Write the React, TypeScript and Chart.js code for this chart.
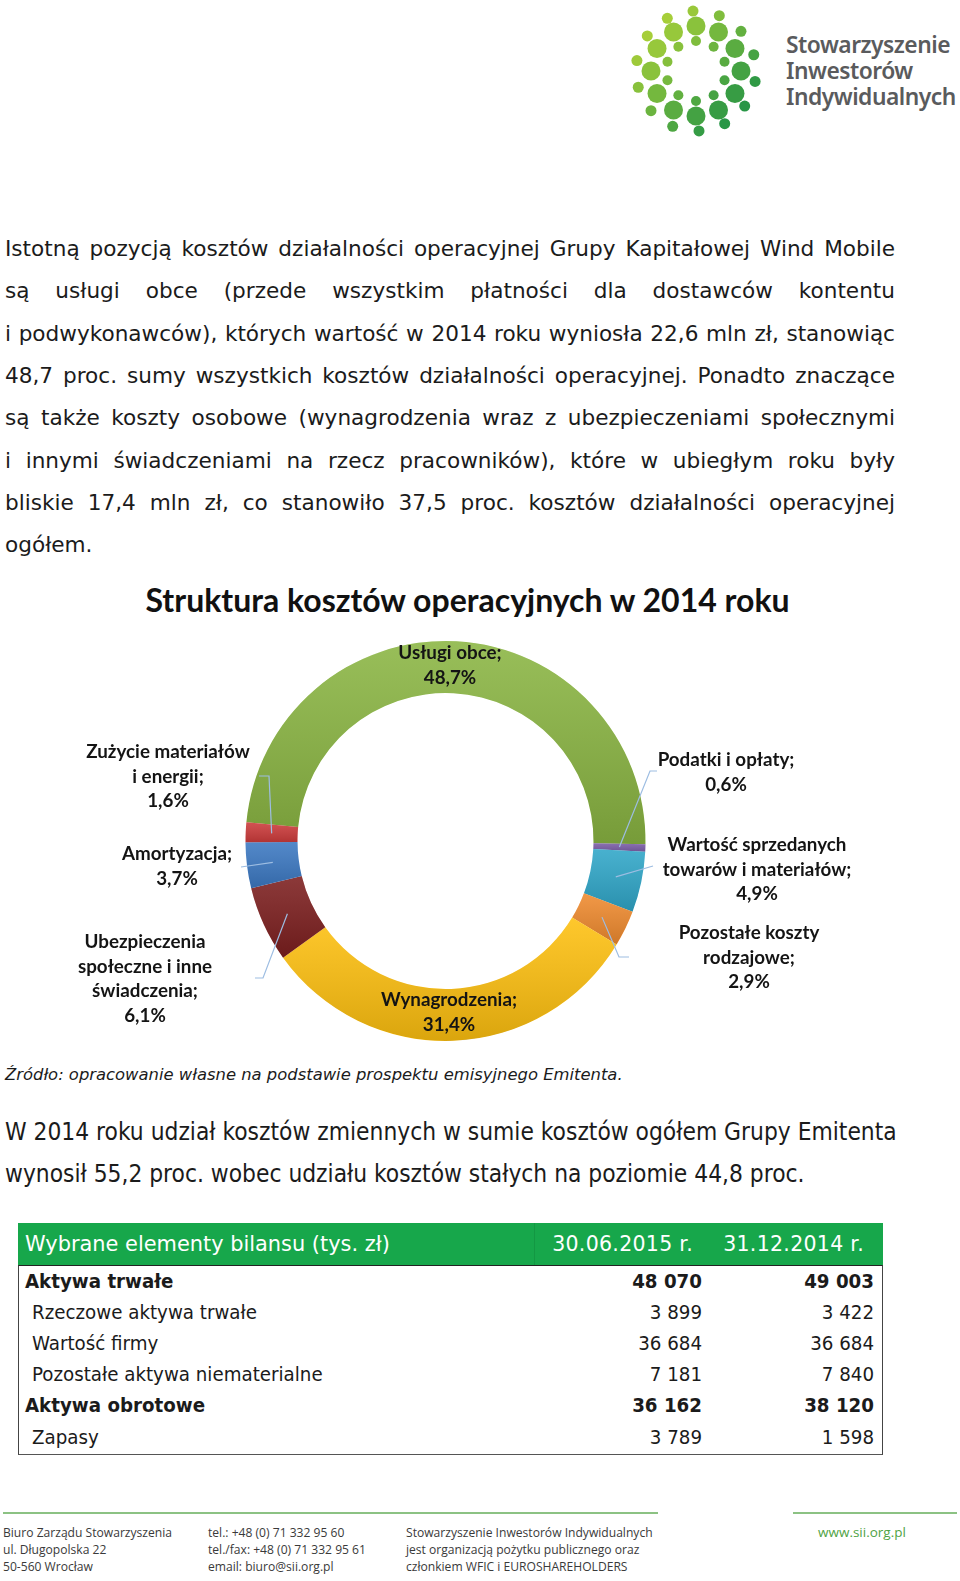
import React, { useEffect, useRef } from 'react';
import { Chart, registerables } from 'chart.js';

Chart.register(...registerables);

// ---------- chart data ----------
const CATEGORIES = [
  'Usługi obce',
  'Podatki i opłaty',
  'Wartość sprzedanych towarów i materiałów',
  'Pozostałe koszty rodzajowe',
  'Wynagrodzenia',
  'Ubezpieczenia społeczne i inne świadczenia',
  'Amortyzacja',
  'Zużycie materiałów i energii',
];
const SHARES = [48.7, 0.6, 4.9, 2.9, 31.4, 6.1, 3.7, 1.6];
const LABEL_LINES = [
  ['Usługi obce;'],
  ['Podatki i opłaty;'],
  ['Wartość sprzedanych', 'towarów i materiałów;'],
  ['Pozostałe koszty', 'rodzajowe;'],
  ['Wynagrodzenia;'],
  ['Ubezpieczenia', 'społeczne i inne', 'świadczenia;'],
  ['Amortyzacja;'],
  ['Zużycie materiałów', 'i energii;'],
];
const SLICE_COLORS = ['#8AB542', '#7A5CA6', '#2FA6C8', '#EF8A2E', '#FEC00F', '#7C1E1E', '#3B78C2', '#CC3A3A'];
const CHART_TITLE = 'Struktura kosztów operacyjnych w 2014 roku';

// label layout (page coordinates): centre x, first line y, leader elbow points
const CANVAS_TOP = 560;
const LABEL_LAYOUT: { cx: number; y: number; leader: number[][] | null }[] = [
  { cx: 450, y: 653, leader: null },
  { cx: 726, y: 760, leader: [[657, 771], [650, 771]] },
  { cx: 757, y: 845, leader: [[653, 866]] },
  { cx: 749, y: 933, leader: [[629, 957], [619, 957]] },
  { cx: 449, y: 1000, leader: null },
  { cx: 145, y: 942, leader: [[255, 978], [263, 978]] },
  { cx: 177, y: 854, leader: [[241, 867]] },
  { cx: 168, y: 752, leader: [[259, 776], [269, 776]] },
];

// ---------- page text ----------
const PARA1 = [
  'Istotną pozycją kosztów działalności operacyjnej Grupy Kapitałowej Wind Mobile',
  'są usługi obce (przede wszystkim płatności dla dostawców kontentu',
  'i podwykonawców), których wartość w 2014 roku wyniosła 22,6 mln zł, stanowiąc',
  '48,7 proc. sumy wszystkich kosztów działalności operacyjnej. Ponadto znaczące',
  'są także koszty osobowe (wynagrodzenia wraz z ubezpieczeniami społecznymi',
  'i innymi świadczeniami na rzecz pracowników), które w ubiegłym roku były',
  'bliskie 17,4 mln zł, co stanowiło 37,5 proc. kosztów działalności operacyjnej',
  'ogółem.',
];
const SOURCE = 'Źródło: opracowanie własne na podstawie prospektu emisyjnego Emitenta.';
const PARA2 = [
  'W 2014 roku udział kosztów zmiennych w sumie kosztów ogółem Grupy Emitenta',
  'wynosił 55,2 proc. wobec udziału kosztów stałych na poziomie 44,8 proc.',
];
const TABLE_HEAD = ['Wybrane elementy bilansu (tys. zł)', '30.06.2015 r.', '31.12.2014 r.'];
const TABLE_ROWS = ['Aktywa trwałe', 'Rzeczowe aktywa trwałe', 'Wartość firmy', 'Pozostałe aktywa niematerialne', 'Aktywa obrotowe', 'Zapasy'];
const TABLE_BOLD = [true, false, false, false, true, false];
const COL_2015 = ['48 070', '3 899', '36 684', '7 181', '36 162', '3 789'];
const COL_2014 = ['49 003', '3 422', '36 684', '7 840', '38 120', '1 598'];
const FOOTER_COLS = [
  ['Biuro Zarządu Stowarzyszenia', 'ul. Długopolska 22', '50-560 Wrocław'],
  ['tel.: +48 (0) 71 332 95 60', 'tel./fax: +48 (0) 71 332 95 61', 'email: biuro@sii.org.pl'],
  ['Stowarzyszenie Inwestorów Indywidualnych', 'jest organizacją pożytku publicznego oraz', 'członkiem WFIC i EUROSHAREHOLDERS'],
];
const LOGO_LINES = ['Stowarzyszenie', 'Inwestorów', 'Indywidualnych'];

const fmtPct = (v: number) => v.toFixed(1).replace('.', ',') + '%';

const shadePlugin = {
  id: 'shade',
  afterDatasetsDraw(chart: any) {
    const ctx = chart.ctx;
    chart.getDatasetMeta(0).data.forEach((arc: any) => {
      const p = arc.getProps(['x', 'y', 'startAngle', 'endAngle', 'innerRadius', 'outerRadius'], true);
      let minY = Infinity, maxY = -Infinity;
      for (let k = 0; k <= 24; k++) {
        const a = p.startAngle + ((p.endAngle - p.startAngle) * k) / 24;
        for (const r of [p.innerRadius, p.outerRadius]) {
          const py = p.y + Math.sin(a) * r;
          minY = Math.min(minY, py);
          maxY = Math.max(maxY, py);
        }
      }
      ctx.save();
      ctx.beginPath();
      ctx.arc(p.x, p.y, p.outerRadius, p.startAngle, p.endAngle);
      ctx.arc(p.x, p.y, p.innerRadius, p.endAngle, p.startAngle, true);
      ctx.closePath();
      ctx.clip();
      const g = ctx.createLinearGradient(0, minY, 0, maxY + 1);
      g.addColorStop(0, 'rgba(255,255,255,0.12)');
      g.addColorStop(1, 'rgba(0,0,0,0.14)');
      ctx.fillStyle = g;
      ctx.fill();
      ctx.restore();
    });
  },
};

const labelPlugin = {
  id: 'sliceLabels',
  afterDraw(chart: any) {
    const ctx = chart.ctx;
    const meta = chart.getDatasetMeta(0);
    meta.data.forEach((arc: any, i: number) => {
      const p = arc.getProps(['x', 'y', 'startAngle', 'endAngle', 'innerRadius', 'outerRadius'], true);
      const mid = (p.startAngle + p.endAngle) / 2;
      const r = (p.innerRadius + p.outerRadius) / 2;
      const ax = p.x + Math.cos(mid) * r;
      const ay = p.y + Math.sin(mid) * r;
      const lay = LABEL_LAYOUT[i];
      if (lay.leader) {
        ctx.save();
        ctx.strokeStyle = '#9DBDE2';
        ctx.lineWidth = 1.2;
        ctx.beginPath();
        lay.leader.forEach((pt, k) => {
          if (k === 0) ctx.moveTo(pt[0], pt[1] - CANVAS_TOP);
          else ctx.lineTo(pt[0], pt[1] - CANVAS_TOP);
        });
        ctx.lineTo(ax, ay);
        ctx.stroke();
        ctx.restore();
      }
      const lines = [...LABEL_LINES[i], fmtPct(SHARES[i])];
      ctx.save();
      ctx.font = 'bold 18.8px Lato';
      ctx.fillStyle = '#141414';
      ctx.textAlign = 'center';
      ctx.textBaseline = 'middle';
      lines.forEach((t, k) => {
        ctx.fillText(t, lay.cx, lay.y - CANVAS_TOP + k * 24.7);
      });
      ctx.restore();
    });
  },
};

function Doughnut() {
  const ref = useRef<HTMLCanvasElement | null>(null);
  useEffect(() => {
    if (!ref.current) return;
    const chart = new Chart(ref.current, {
      type: 'doughnut',
      data: {
        labels: CATEGORIES,
        datasets: [
          {
            data: SHARES,
            backgroundColor: SLICE_COLORS,
            borderWidth: 0,
          },
        ],
      },
      options: {
        animation: false,
        responsive: true,
        maintainAspectRatio: false,
        cutout: '74%',
        rotation: -84.6,
        layout: { padding: { left: 245.5, right: 314.5, top: 81, bottom: 9 } },
        plugins: {
          legend: { display: false },
          tooltip: { enabled: false },
          title: { display: false },
        },
      },
      plugins: [shadePlugin, labelPlugin],
    });
    return () => chart.destroy();
  }, []);
  return (
    <div style={{ position: 'absolute', left: 0, top: CANVAS_TOP, width: 960, height: 490 }}>
      <canvas ref={ref} />
    </div>
  );
}

function Logo() {
  const cx = 70, cy = 71;
  const items: JSX.Element[] = [];
  const col = (x: number, y: number) => {
    const t = Math.max(0, Math.min(1, ((x - cx) + (y - cy)) / 160 + 0.5));
    const c1 = [166, 206, 57], c2 = [40, 150, 70];
    const c = c1.map((v, k) => Math.round(v + (c2[k] - v) * t));
    return `rgb(${c[0]},${c[1]},${c[2]})`;
  };
  const rings = [
    { r: 60, n: 14, s: 5.5, off: 10 },
    { r: 45, n: 12, s: 9.5, off: 0 },
    { r: 30, n: 10, s: 5, off: 18 },
  ];
  rings.forEach((rg, ri) => {
    for (let k = 0; k < rg.n; k++) {
      const a = ((k * 360) / rg.n + rg.off) * (Math.PI / 180);
      const x = cx + Math.cos(a) * rg.r;
      const y = cy + Math.sin(a) * rg.r;
      items.push(<circle key={ri + '-' + k} cx={x} cy={y} r={rg.s} fill={col(x, y)} />);
    }
  });
  return (
    <>
      <svg style={{ position: 'absolute', left: 626, top: 0 }} width={140} height={142}>
        {items}
      </svg>
      {LOGO_LINES.map((t, i) => (
        <div
          key={t}
          style={{
            position: 'absolute',
            left: 786,
            top: 32 + i * 26.2,
            height: 26,
            lineHeight: '26px',
            fontFamily: '"Noto Sans", sans-serif',
            fontWeight: 600,
            fontSize: 22.8,
            letterSpacing: -0.5,
            color: '#5a5b5d',
            whiteSpace: 'nowrap',
          }}
        >
          {t}
        </div>
      ))}
    </>
  );
}

export default function App() {
  const lineStyle = (top: number, last: boolean, h: number): React.CSSProperties => ({
    position: 'absolute',
    left: 5,
    width: 890,
    top,
    height: h,
    lineHeight: h + 'px',
    textAlign: last ? 'left' : 'justify',
    textAlignLast: last ? 'left' : 'justify',
    whiteSpace: 'nowrap',
  });
  return (
    <div
      style={{
        position: 'absolute',
        left: 0,
        top: 0,
        width: 960,
        height: 1581,
        background: '#ffffff',
        overflow: 'hidden',
        color: '#1b1b1b',
      }}
    >
      <Logo />
      <div style={{ fontFamily: '"DejaVu Sans", sans-serif', fontSize: 21.6 }}>
        {PARA1.map((t, i) => (
          <div key={i} style={lineStyle(228 + i * 42.3, i === PARA1.length - 1, 42)}>
            {t}
          </div>
        ))}
      </div>
      <div
        style={{
          position: 'absolute',
          left: 0,
          width: 935,
          top: 580,
          height: 40,
          lineHeight: '40px',
          textAlign: 'center',
          fontFamily: 'Lato, sans-serif',
          fontWeight: 700,
          fontSize: 32,
          color: '#111',
          whiteSpace: 'nowrap',
        }}
      >
        {CHART_TITLE}
      </div>
      <Doughnut />
      <div
        style={{
          position: 'absolute',
          left: 5,
          top: 1063,
          height: 24,
          lineHeight: '24px',
          fontFamily: '"DejaVu Sans", sans-serif',
          fontStyle: 'italic',
          fontSize: 16.4,
          whiteSpace: 'nowrap',
        }}
      >
        {SOURCE}
      </div>
      <div style={{ fontFamily: '"DejaVu Sans Condensed", "DejaVu Sans", sans-serif', fontSize: 24.3 }}>
        {PARA2.map((t, i) => (
          <div key={i} style={lineStyle(1110.5 + i * 42.3, i === PARA2.length - 1, 42)}>
            {t}
          </div>
        ))}
      </div>
      {/* table */}
      <div
        style={{
          position: 'absolute',
          left: 18,
          top: 1223,
          width: 865,
          height: 42,
          background: '#17A74B',
          color: '#fff',
          fontFamily: '"DejaVu Sans", sans-serif',
          fontSize: 20.5,
          lineHeight: '42px',
        }}
      >
        <div style={{ position: 'absolute', left: 516, top: 0, width: 1, height: 42, background: '#139843' }} />
        <div style={{ position: 'absolute', left: 7, top: 0, whiteSpace: 'nowrap', fontSize: 20.9 }}>{TABLE_HEAD[0]}</div>
        <div style={{ position: 'absolute', right: 865 - 675, top: 0, whiteSpace: 'nowrap', letterSpacing: 0.3 }}>{TABLE_HEAD[1]}</div>
        <div style={{ position: 'absolute', right: 865 - 846, top: 0, whiteSpace: 'nowrap', letterSpacing: 0.3 }}>{TABLE_HEAD[2]}</div>
      </div>
      <div
        style={{
          position: 'absolute',
          left: 18,
          top: 1264.5,
          width: 865,
          height: 190,
          boxSizing: 'border-box',
          borderLeft: '1px solid #444',
          borderRight: '1px solid #444',
          borderBottom: '1.5px solid #555',
          borderTop: '1.5px solid #222',
          fontFamily: '"DejaVu Sans Condensed", "DejaVu Sans", sans-serif',
          fontSize: 20.3,
        }}
      >
        {TABLE_ROWS.map((t, i) => (
          <div key={t} style={{ position: 'absolute', left: 0, top: i * 31.24, width: 863, height: 31, lineHeight: '31px', fontWeight: TABLE_BOLD[i] ? 700 : 400 }}>
            <div style={{ position: 'absolute', left: TABLE_BOLD[i] ? 6 : 13, whiteSpace: 'nowrap' }}>{t}</div>
            <div style={{ position: 'absolute', right: 883 - 702 - 1, whiteSpace: 'nowrap' }}>{COL_2015[i]}</div>
            <div style={{ position: 'absolute', right: 883 - 874 - 1, whiteSpace: 'nowrap' }}>{COL_2014[i]}</div>
          </div>
        ))}
      </div>
      {/* footer */}
      <div style={{ position: 'absolute', left: 3, top: 1512, width: 655, height: 2, background: '#8CC283' }} />
      <div style={{ position: 'absolute', left: 793, top: 1512, width: 164, height: 2, background: '#8CC283' }} />
      {FOOTER_COLS.map((col, ci) => (
        <div key={ci} style={{ position: 'absolute', left: [3, 208, 406][ci], top: 1524, fontFamily: '"Open Sans", sans-serif', fontSize: 12.1, lineHeight: '17.1px', color: '#3a3a3a', whiteSpace: 'nowrap' }}>
          {col.map((t) => (
            <div key={t}>{t}</div>
          ))}
        </div>
      ))}
      <div style={{ position: 'absolute', left: 818, top: 1524, fontFamily: '"Open Sans", sans-serif', fontSize: 13.5, lineHeight: '17px', color: '#4FA344' }}>
        www.sii.org.pl
      </div>
    </div>
  );
}
